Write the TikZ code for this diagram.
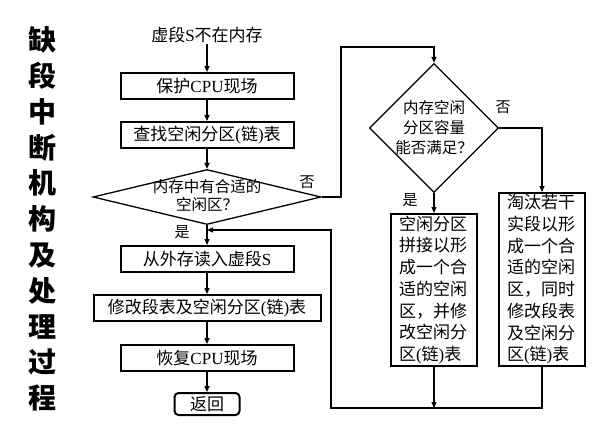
\documentclass[tikz,border=0pt]{standalone}
\usepackage{fontspec}
\setmainfont{Noto Sans CJK SC}
\newfontfamily\tnr{Liberation Serif}
\usetikzlibrary{shapes.geometric,arrows.meta}
\begin{document}
\begin{tikzpicture}[x=1pt,y=-1pt,
  box/.style={draw, line width=2pt, minimum width=173pt, minimum height=26pt, inner sep=0pt, font=\fontsize{17}{20}\selectfont},
  conn/.style={line width=1.3pt, -{Triangle[length=6pt,width=5pt]}},
  plain/.style={line width=1.3pt},
  lbl/.style={font=\fontsize{15}{18}\selectfont, inner sep=0pt},
  tallbox/.style={draw, line width=2pt, inner xsep=8pt, inner ysep=0pt, align=left, text width=70pt, font=\fontsize{17}{21.7}\selectfont},
  dia/.style={diamond, draw, line width=1.3pt, inner sep=0pt},
  diatext/.style={align=center, inner sep=0pt}
]
\useasboundingbox (0,0) rectangle (601,429);

\node[font=\fontsize{28}{35.8}\selectfont\bfseries, align=center, inner sep=0pt] (title) at (42,219)
  {缺\\段\\中\\断\\机\\构\\及\\处\\理\\过\\程};

\node[font=\fontsize{17}{20}\selectfont, inner sep=1pt] (t0) at (207,35) {虚段{\tnr S}不在内存};
\node[box] (b1) at (207,86) {保护{\tnr CPU}现场};
\node[box] (b2) at (207,135) {查找空闲分区{\tnr (}链{\tnr )}表};
\node[dia, minimum width=228pt, minimum height=55pt] (d1) at (207,197) {};
\node[diatext, font=\fontsize{15.5}{18}\selectfont] (d1t) at (207,196) {内存中有合适的\\空闲区？};
\node[box] (b3) at (207,259) {从外存读入虚段{\tnr S}};
\node[box, minimum width=227pt] (b4) at (207,308) {修改段表及空闲分区{\tnr (}链{\tnr )}表};
\node[box] (b5) at (207,358) {恢复{\tnr CPU}现场};
\node[box, minimum width=65pt, minimum height=22pt, rounded corners=4pt] (b6) at (207,404) {返回};

\node[dia, minimum width=129pt, minimum height=129pt] (d2) at (434,128) {};
\node[diatext, font=\fontsize{15.5}{20}\selectfont] (d2t) at (434,128) {内存空闲\\分区容量\\能否满足？};

\node[tallbox, minimum height=152pt] (bl) at (434,290)
  {空闲分区\\拼接以形\\成一个合\\适的空闲\\区，并修\\改空闲分\\区{\tnr (}链{\tnr )}表};
\node[tallbox, minimum height=173pt] (br) at (542,279.5)
  {淘汰若干\\实段以形\\成一个合\\适的空闲\\区，同时\\修改段表\\及空闲分\\区{\tnr (}链{\tnr )}表};

\coordinate (c1) at (341,47);
\coordinate (j) at (434,408);
\coordinate (c3) at (331,408);
\coordinate (m) at (207,230);

\draw[conn] (t0) -- (b1);
\draw[conn] (b1) -- (b2);
\draw[conn] (b2) -- (d1.north);
\draw[conn] (d1.south) -- (b3);
\draw[conn] (b3) -- (b4);
\draw[conn] (b4) -- (b5);
\draw[conn] (b5) -- (b6);
\draw[conn] (d1.east) -| (c1) -| (d2.north);
\draw[conn] (d2.south) -- (bl.north);
\draw[conn] (d2.east) -| (br.north);
\draw[conn] (bl.south) -- (j);
\draw[conn] (br.south) |- (c3) |- (m);

\node[lbl] (n1) at (307,182) {否};
\node[lbl] (y1) at (182,232) {是};
\node[lbl] (n2) at (503,107) {否};
\node[lbl] (y2) at (410,200) {是};
\end{tikzpicture}
\end{document}
